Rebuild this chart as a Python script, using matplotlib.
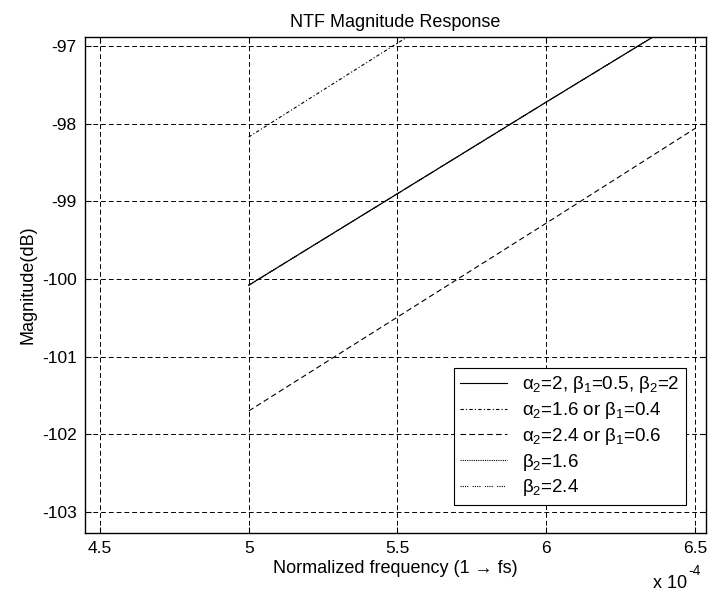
import matplotlib
matplotlib.use('Agg')
import matplotlib.pyplot as plt

plt.rcParams['font.family'] = ['Liberation Sans', 'DejaVu Sans']
plt.rcParams['mathtext.fontset'] = 'custom'
plt.rcParams['mathtext.rm'] = 'Liberation Sans'
plt.rcParams['mathtext.it'] = 'Liberation Sans'
plt.rcParams['mathtext.bf'] = 'Liberation Sans:bold'

# frequency in units of 1e-4 (normalized, 1 -> fs)
freq = [5.0, 5.5, 6.0, 6.5]

# NTF magnitude (dB) for each coefficient set
ntf_nominal = [-100.08, -98.90, -97.72, -96.55]
ntf_alpha16 = [-98.17, -96.96, -95.75, -94.54]
ntf_alpha24 = [-101.70, -100.49, -99.28, -98.06]
ntf_beta16 = [-100.08, -98.90, -97.72, -96.55]
ntf_beta24 = [-100.08, -98.90, -97.72, -96.55]

labels = [
    r'$\alpha_2$=2, $\beta_1$=0.5, $\beta_2$=2',
    r'$\alpha_2$=1.6 or $\beta_1$=0.4',
    r'$\alpha_2$=2.4 or $\beta_1$=0.6',
    r'$\beta_2$=1.6',
    r'$\beta_2$=2.4',
]
xticks = [4.5, 5, 5.5, 6, 6.5]
yticks = [-103, -102, -101, -100, -99, -98, -97]

fig = plt.figure(figsize=(7.11, 6.0), dpi=100)
ax = fig.add_axes([0.1195, 0.112, 0.8735, 0.826])

ax.plot(freq, ntf_nominal, color='k', lw=0.8, ls='-', label=labels[0])
ax.plot(freq, ntf_alpha16, color='k', lw=0.8, ls=(0, (3, 2, 1, 2)), label=labels[1])
ax.plot(freq, ntf_alpha24, color='k', lw=0.8, ls=(0, (5, 3)), label=labels[2])
ax.plot(freq, ntf_beta16, color='k', lw=0.8, ls=(0, (1, 1)), label=labels[3])
ax.plot(freq, ntf_beta24, color='k', lw=0.8, ls=(0, (1, 1, 1, 1, 1, 1, 1, 4)), label=labels[4])

ax.set_xlim(4.4496, 6.537)
ax.set_ylim(-103.27, -96.884)
ax.set_xticks(xticks)
ax.set_xticklabels(['4.5', '5', '5.5', '6', '6.5'])
ax.set_yticks(yticks)
ax.set_yticklabels([str(v) for v in yticks])

ax.grid(True, color='k', ls=(0, (5, 3)), lw=0.7)
ax.tick_params(direction='in', top=True, right=True, length=4, width=0.8,
               labelsize=12.5, pad=6)
for sp in ax.spines.values():
    sp.set_linewidth(1.0)

ax.set_title('NTF Magnitude Response', fontsize=13, pad=7)
ax.set_xlabel('Normalized frequency (1 \u2192 fs)', fontsize=13, labelpad=3)
ax.set_ylabel('Magnitude(dB)', fontsize=13, labelpad=4)

# axis multiplier below the x axis
fig.text(0.967, 0.013, 'x 10', ha='right', va='bottom', fontsize=13)
fig.text(0.968, 0.037, '-4', ha='left', va='bottom', fontsize=10)

leg = ax.legend(loc='lower right', bbox_to_anchor=(0.968, 0.0565), fontsize=13.5,
                frameon=True, fancybox=False, framealpha=1, edgecolor='k',
                handlelength=2.5, handletextpad=0.8, borderpad=0.35,
                borderaxespad=0, labelspacing=0.25)
leg.get_frame().set_linewidth(0.8)

fig.savefig('out.png', dpi=100)
